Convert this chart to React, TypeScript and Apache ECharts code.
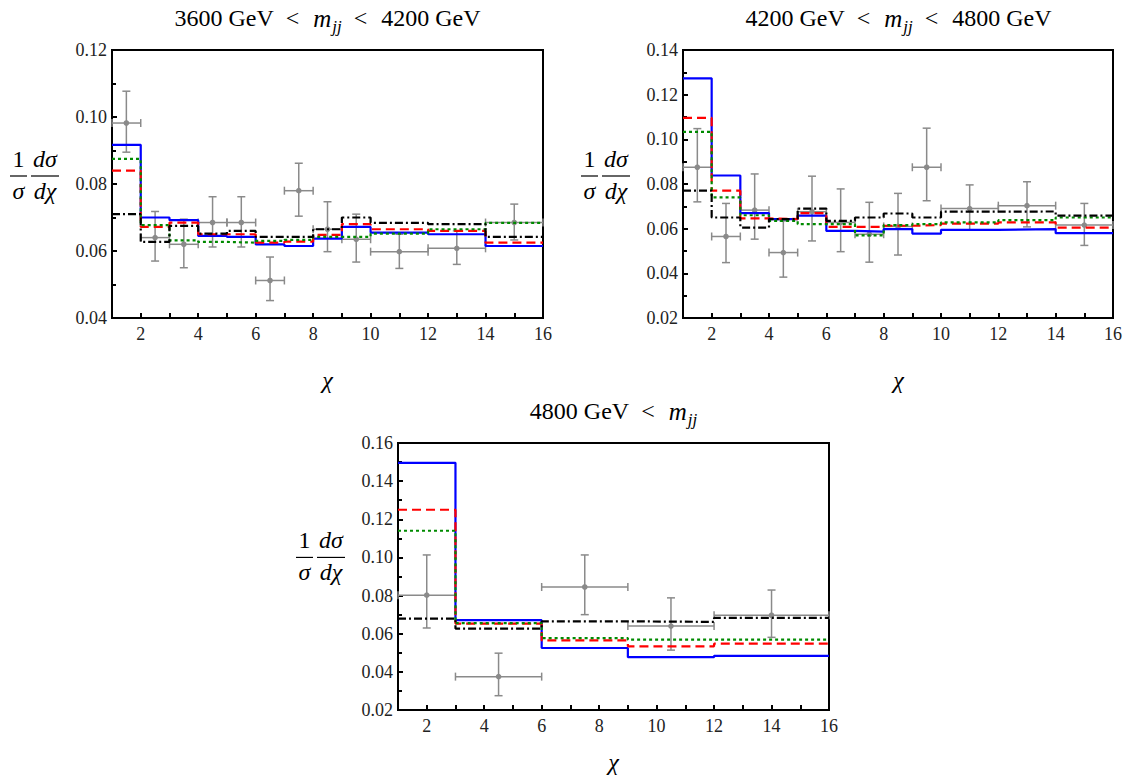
import React, { useEffect, useRef } from "react";
import * as echarts from "echarts";

// ---------- data ----------
const edgesFine = [1, 2, 3, 4, 5, 6, 7, 8, 9, 10, 12, 14, 16];
const edgesCoarse = [1, 3, 6, 9, 12, 16];

// Panel 1: 3600 < mjj < 4200
const p1Blue = [0.0917, 0.0700, 0.0692, 0.0645, 0.0642, 0.0620, 0.0615, 0.0637, 0.0672, 0.0655, 0.0650, 0.0615];
const p1Red = [0.0840, 0.0672, 0.0685, 0.0650, 0.0650, 0.0625, 0.0628, 0.0648, 0.0680, 0.0665, 0.0660, 0.0625];
const p1Green = [0.0875, 0.0677, 0.0632, 0.0627, 0.0625, 0.0630, 0.0633, 0.0642, 0.0642, 0.0652, 0.0665, 0.0684];
const p1Black = [0.0710, 0.0627, 0.0675, 0.0652, 0.0660, 0.0642, 0.0642, 0.0665, 0.0700, 0.0684, 0.0680, 0.0642];
const p1DataX = [1.5, 2.5, 3.5, 4.5, 5.5, 6.5, 7.5, 8.5, 9.5, 11, 13, 15];
const p1DataY = [0.0982, 0.0640, 0.0620, 0.0685, 0.0685, 0.0512, 0.0780, 0.0665, 0.0635, 0.0598, 0.0608, 0.0685];
const p1DataHi = [0.1077, 0.0718, 0.0695, 0.0762, 0.0762, 0.0582, 0.0862, 0.0747, 0.0710, 0.0650, 0.0660, 0.0740];
const p1DataLo = [0.0895, 0.0570, 0.0550, 0.0612, 0.0612, 0.0452, 0.0704, 0.0598, 0.0567, 0.0548, 0.0560, 0.0633];

// Panel 2: 4200 < mjj < 4800
const p2Blue = [0.1273, 0.0838, 0.0670, 0.0643, 0.0658, 0.0590, 0.0587, 0.0598, 0.0578, 0.0595, 0.0598, 0.0580];
const p2Red = [0.1096, 0.0770, 0.0646, 0.0643, 0.0670, 0.0608, 0.0608, 0.0613, 0.0616, 0.0623, 0.0628, 0.0605];
const p2Green = [0.1033, 0.0740, 0.0660, 0.0635, 0.0620, 0.0620, 0.0570, 0.0616, 0.0620, 0.0628, 0.0638, 0.0650];
const p2Black = [0.0770, 0.0650, 0.0605, 0.0643, 0.0690, 0.0635, 0.0650, 0.0668, 0.0650, 0.0676, 0.0677, 0.0658];
const p2DataX = [1.5, 2.5, 3.5, 4.5, 5.5, 6.5, 7.5, 8.5, 9.5, 11, 13, 15];
const p2DataY = [0.0875, 0.0565, 0.0683, 0.0493, 0.0676, 0.0628, 0.0575, 0.0610, 0.0875, 0.0690, 0.0703, 0.0616];
const p2DataHi = [0.1048, 0.0713, 0.0845, 0.0635, 0.0835, 0.0778, 0.0718, 0.0758, 0.1050, 0.0796, 0.0810, 0.0713];
const p2DataLo = [0.0720, 0.0448, 0.0553, 0.0383, 0.0545, 0.0497, 0.0450, 0.0482, 0.0725, 0.0595, 0.0608, 0.0525];

// Panel 3: 4800 < mjj
const p3Blue = [0.1496, 0.0671, 0.0525, 0.0477, 0.0484];
const p3Red = [0.1250, 0.0653, 0.0565, 0.0534, 0.0548];
const p3Green = [0.1140, 0.0656, 0.0577, 0.0569, 0.0569];
const p3Black = [0.0679, 0.0627, 0.0665, 0.0662, 0.0683];
const p3DataX = [2, 4.5, 7.5, 10.5, 14];
const p3DataY = [0.0802, 0.0375, 0.0845, 0.0640, 0.0697];
const p3DataHi = [0.1013, 0.0498, 0.1013, 0.0788, 0.0829];
const p3DataLo = [0.0630, 0.0275, 0.0700, 0.0514, 0.0581];

const yRanges = [
  [0.04, 0.12],
  [0.02, 0.14],
  [0.02, 0.16],
];
const titleLo = ["3600 GeV", "4200 GeV", "4800 GeV"];
const titleHi = ["4200 GeV", "4800 GeV", ""];

// ---------- styling / layout ----------
const FONT = "Liberation Serif";
const GRAY = "#8a8a8a";
const layouts = [
  { left: 112, top: 50, width: 431, height: 268 },
  { left: 683, top: 50, width: 431, height: 268 },
  { left: 398, top: 443, width: 431, height: 267 },
];
const lineStyles = [
  { color: "#0000ff", type: "solid" as any },
  { color: "#ff0000", type: [9, 5] as any },
  { color: "#008a00", type: [3, 3] as any },
  { color: "#000000", type: [8, 3, 2, 3] as any },
];

const panels = [
  { edges: edgesFine, lines: [p1Blue, p1Red, p1Green, p1Black], dx: p1DataX, dy: p1DataY, dhi: p1DataHi, dlo: p1DataLo },
  { edges: edgesFine, lines: [p2Blue, p2Red, p2Green, p2Black], dx: p2DataX, dy: p2DataY, dhi: p2DataHi, dlo: p2DataLo },
  { edges: edgesCoarse, lines: [p3Blue, p3Red, p3Green, p3Black], dx: p3DataX, dy: p3DataY, dhi: p3DataHi, dlo: p3DataLo },
];

function errorRender(params: any, api: any) {
  const x = api.value(0);
  const y = api.value(1);
  const c = api.coord([x, y]);
  const pl = api.coord([api.value(2), y]);
  const ph = api.coord([api.value(3), y]);
  const pyl = api.coord([x, api.value(4)]);
  const pyh = api.coord([x, api.value(5)]);
  const st = { stroke: GRAY, lineWidth: 1.5, fill: null };
  const cap = 4;
  return {
    type: "group",
    children: [
      { type: "line", shape: { x1: pl[0], y1: c[1], x2: ph[0], y2: c[1] }, style: st },
      { type: "line", shape: { x1: pl[0], y1: c[1] - cap, x2: pl[0], y2: c[1] + cap }, style: st },
      { type: "line", shape: { x1: ph[0], y1: c[1] - cap, x2: ph[0], y2: c[1] + cap }, style: st },
      { type: "line", shape: { x1: c[0], y1: pyl[1], x2: c[0], y2: pyh[1] }, style: st },
      { type: "line", shape: { x1: c[0] - cap, y1: pyl[1], x2: c[0] + cap, y2: pyl[1] }, style: st },
      { type: "line", shape: { x1: c[0] - cap, y1: pyh[1], x2: c[0] + cap, y2: pyh[1] }, style: st },
      { type: "circle", shape: { cx: c[0], cy: c[1], r: 2.8 }, style: { fill: GRAY } },
    ],
  };
}

function yToPx(i: number, v: number) {
  const L = layouts[i];
  const [mn, mx] = yRanges[i];
  return L.top + ((mx - v) / (mx - mn)) * L.height;
}

function fraction(L: number, barY: number) {
  const base = { fill: "#000", fontFamily: FONT, fontSize: 24, align: "center", verticalAlign: "middle" };
  return [
    { type: "text", x: L - 93.5, y: barY - 17, style: { ...base, text: "1" } },
    { type: "line", shape: { x1: L - 102, y1: barY, x2: L - 85, y2: barY }, style: { stroke: "#000", lineWidth: 1.2 } },
    { type: "text", x: L - 93.5, y: barY + 15, style: { ...base, fontStyle: "italic", text: "σ" } },
    { type: "text", x: L - 67, y: barY - 17, style: { ...base, fontStyle: "italic", text: "dσ" } },
    { type: "line", shape: { x1: L - 81, y1: barY, x2: L - 53, y2: barY }, style: { stroke: "#000", lineWidth: 1.2 } },
    { type: "text", x: L - 67, y: barY + 15, style: { ...base, fontStyle: "italic", text: "dχ" } },
  ];
}

function titleText(i: number) {
  const lo = titleLo[i];
  const hi = titleHi[i];
  let t = `{n|${lo}}{lt|<}{m|m}{s|jj}`;
  if (hi) t += `{lt|<}{n|${hi}}`;
  return t;
}

function buildOption() {
  const grid: any[] = [];
  const xAxis: any[] = [];
  const yAxis: any[] = [];
  const series: any[] = [];
  const graphic: any[] = [];

  panels.forEach((p, i) => {
    const L = layouts[i];
    grid.push({ ...L, show: true, borderColor: "#000", borderWidth: 2, containLabel: false });
    xAxis.push({
      type: "value",
      gridIndex: i,
      min: 1,
      max: 16,
      interval: 1,
      axisLine: { show: true, lineStyle: { color: "#000", width: 2 } },
      axisTick: { show: true, inside: true, length: 5, lineStyle: { color: "#000", width: 2 } },
      axisLabel: {
        color: "#222",
        fontFamily: FONT,
        fontSize: 18,
        margin: 7,
        formatter: (v: number) => (Math.round(v) % 2 === 0 ? String(Math.round(v)) : ""),
      },
      splitLine: { show: false },
    });
    yAxis.push({
      type: "value",
      gridIndex: i,
      min: yRanges[i][0],
      max: yRanges[i][1],
      interval: 0.02,
      axisLine: { show: true, lineStyle: { color: "#000", width: 2 } },
      axisTick: { show: true, inside: true, length: 5, lineStyle: { color: "#000", width: 2 } },
      minorTick: { show: true, splitNumber: 2, length: 4, lineStyle: { color: "#000", width: 2 } },
      axisLabel: {
        color: "#222",
        fontFamily: FONT,
        fontSize: 18,
        margin: 5,
        formatter: (v: number) => v.toFixed(2),
      },
      splitLine: { show: false },
      minorSplitLine: { show: false },
    });

    series.push({
      type: "custom",
      xAxisIndex: i,
      yAxisIndex: i,
      renderItem: errorRender,
      clip: false,
      z: 1,
      encode: { x: 0, y: 1 },
      data: p.dx.map((x, k) => [x, p.dy[k], p.edges[k], p.edges[k + 1], p.dlo[k], p.dhi[k]]),
    });

    p.lines.forEach((vals, j) => {
      series.push({
        type: "line",
        xAxisIndex: i,
        yAxisIndex: i,
        step: "end",
        symbol: "none",
        z: 2 + j,
        lineStyle: { color: lineStyles[j].color, width: 2.2, type: lineStyles[j].type },
        data: p.edges.map((e, k) => [e, vals[Math.min(k, vals.length - 1)]]),
      });
    });

    const cx = L.left + L.width / 2;
    graphic.push({
      type: "text",
      x: cx,
      y: L.top - 32,
      style: {
        text: titleText(i),
        align: "center",
        verticalAlign: "middle",
        fill: "#000",
        font: `24px ${FONT}`,
        fontFamily: FONT,
        fontSize: 24,
        rich: {
          n: { font: `24px ${FONT}`, fontFamily: FONT, fontSize: 24, lineHeight: 34, fill: "#000" },
          lt: { font: `24px ${FONT}`, fontFamily: FONT, fontSize: 24, lineHeight: 34, fill: "#000", padding: [0, 14, 0, 12] },
          m: { font: `italic 25px ${FONT}`, fontFamily: FONT, fontSize: 25, fontStyle: "italic", lineHeight: 34, fill: "#000" },
          s: { font: `italic 17px ${FONT}`, fontFamily: FONT, fontSize: 17, fontStyle: "italic", lineHeight: 17, verticalAlign: "bottom", fill: "#000", padding: [0, 0, 0, 1] },
        },
      },
    });
    graphic.push({
      type: "text",
      x: cx,
      y: L.top + L.height + (i < 2 ? 62 : 52),
      style: { text: "χ", align: "center", verticalAlign: "middle", fill: "#000", font: `italic 24px ${FONT}`, fontFamily: FONT, fontSize: 24, fontStyle: "italic" },
    });
    const barY = i < 2 ? yToPx(i, 0.08) - 8 : yToPx(i, 0.1);
    fraction(L.left, barY).forEach((g) => graphic.push(g));
  });

  return {
    animation: false,
    backgroundColor: "#ffffff",
    textStyle: { fontFamily: FONT },
    grid,
    xAxis,
    yAxis,
    series,
    graphic,
  };
}

export default function App() {
  const ref = useRef<HTMLDivElement>(null);
  useEffect(() => {
    const chart = echarts.init(ref.current!, null, { renderer: "svg" });
    chart.setOption(buildOption() as any);
    return () => chart.dispose();
  }, []);
  return (
    <div
      ref={ref}
      style={{ position: "absolute", left: 0, top: 0, width: 1125, height: 778, background: "#fff" }}
    />
  );
}
